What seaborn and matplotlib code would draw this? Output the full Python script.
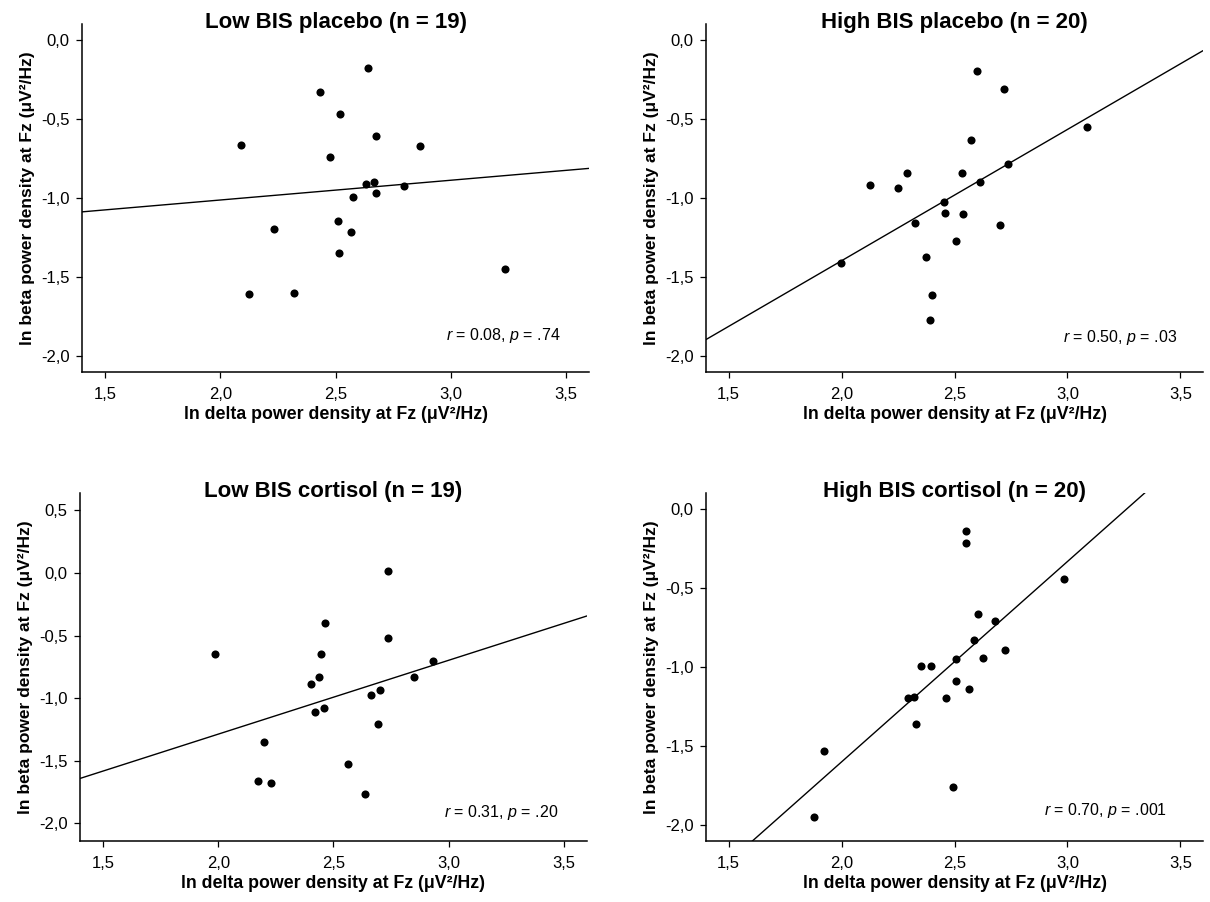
import numpy as np
import pandas as pd
import seaborn as sns
import matplotlib.pyplot as plt

# values (ln delta vs ln beta at Fz)
low_plac_delta = [2.640, 2.431, 2.518, 2.674, 2.088, 2.868, 2.475, 2.634, 2.669, 2.795,
                  2.677, 2.576, 2.510, 2.234, 2.566, 2.516, 3.234, 2.126, 2.319]
low_plac_beta = [-0.176, -0.331, -0.471, -0.607, -0.662, -0.669, -0.741, -0.911, -0.900, -0.924,
                 -0.968, -0.992, -1.146, -1.197, -1.217, -1.348, -1.452, -1.609, -1.603]

high_plac_delta = [2.601, 2.720, 3.086, 2.574, 2.738, 2.127, 2.251, 2.290, 2.531, 2.611,
                   2.453, 2.459, 2.537, 2.325, 2.700, 2.506, 2.374, 1.996, 2.402, 2.393]
high_plac_beta = [-0.197, -0.312, -0.552, -0.633, -0.786, -0.915, -0.938, -0.843, -0.843, -0.902,
                  -1.023, -1.098, -1.100, -1.155, -1.168, -1.272, -1.376, -1.410, -1.611, -1.771]

low_cort_delta = [2.738, 2.465, 2.735, 1.987, 2.447, 2.931, 2.436, 2.848, 2.401, 2.702,
                  2.664, 2.459, 2.420, 2.692, 2.199, 2.561, 2.174, 2.228, 2.637]
low_cort_beta = [0.019, -0.399, -0.519, -0.644, -0.649, -0.702, -0.827, -0.832, -0.883, -0.936,
                 -0.973, -1.074, -1.106, -1.207, -1.346, -1.524, -1.662, -1.678, -1.766]

high_cort_delta = [2.552, 2.552, 2.983, 2.606, 2.679, 2.586, 2.722, 2.507, 2.626, 2.352,
                   2.397, 2.506, 2.565, 2.293, 2.321, 2.463, 2.330, 1.921, 2.493, 1.877]
high_cort_beta = [-0.144, -0.217, -0.446, -0.665, -0.711, -0.830, -0.890, -0.947, -0.941, -0.992,
                  -0.994, -1.091, -1.140, -1.195, -1.191, -1.195, -1.361, -1.533, -1.756, -1.947]

titles = ["Low BIS placebo (n = 19)", "High BIS placebo (n = 20)",
          "Low BIS cortisol (n = 19)", "High BIS cortisol (n = 20)"]
stats = ["$r$ = 0.08, $p$ = .74", "$r$ = 0.50, $p$ = .03",
         "$r$ = 0.31, $p$ = .20", "$r$ = 0.70, $p$ = .001"]

x_ticks = [1.5, 2.0, 2.5, 3.0, 3.5]
x_ticklabels = ["1,5", "2,0", "2,5", "3,0", "3,5"]
y_ticks_a = [0.0, -0.5, -1.0, -1.5, -2.0]
y_ticklabels_a = ["0,0", "-0,5", "-1,0", "-1,5", "-2,0"]
y_ticks_b = [0.5, 0.0, -0.5, -1.0, -1.5, -2.0]
y_ticklabels_b = ["0,5", "0,0", "-0,5", "-1,0", "-1,5", "-2,0"]

sns.set_style("ticks")
plt.rcParams['font.family'] = ['Liberation Sans', 'DejaVu Sans']
plt.rcParams['mathtext.fontset'] = 'custom'
plt.rcParams['mathtext.rm'] = 'Liberation Sans'
plt.rcParams['mathtext.it'] = 'Liberation Sans:italic'
plt.rcParams['text.color'] = 'black'
plt.rcParams['axes.labelcolor'] = 'black'

fig = plt.figure(figsize=(12.1, 9.02), dpi=100)

panels = [
    (low_plac_delta, low_plac_beta, [0.0678, 0.5876, 0.419, 0.3858], (-2.1, 0.1),
     y_ticks_a, y_ticklabels_a, (0.943, 0.092)),
    (high_plac_delta, high_plac_beta, [0.5835, 0.5876, 0.4107, 0.3858], (-2.1, 0.1),
     y_ticks_a, y_ticklabels_a, (0.948, 0.086)),
    (low_cort_delta, low_cort_beta, [0.0661, 0.0676, 0.419, 0.386], (-2.14, 0.64),
     y_ticks_b, y_ticklabels_b, (0.943, 0.069)),
    (high_cort_delta, high_cort_beta, [0.5835, 0.0676, 0.4107, 0.386], (-2.1, 0.1),
     y_ticks_a, y_ticklabels_a, (0.928, 0.075)),
]

for i, (xs, ys, rect, ylim, yt, ytl, txt_pos) in enumerate(panels):
    ax = fig.add_axes(rect)
    df = pd.DataFrame({"delta": xs, "beta": ys})
    ax.set_xlim(1.4, 3.6)
    ax.set_ylim(*ylim)
    sns.regplot(data=df, x="delta", y="beta", ax=ax, ci=None, truncate=False,
                scatter_kws=dict(s=34, color="black", alpha=1, linewidths=0),
                line_kws=dict(color="black", lw=1.0))
    ax.set_xlim(1.4, 3.6)
    ax.set_ylim(*ylim)
    ax.set_xticks(x_ticks)
    ax.set_xticklabels(x_ticklabels)
    ax.set_yticks(yt)
    ax.set_yticklabels(ytl)
    ax.tick_params(labelsize=12, length=4, width=0.9, pad=5, colors="black")
    ax.tick_params(axis="x", pad=7)
    sns.despine(ax=ax)
    for s in ["left", "bottom"]:
        ax.spines[s].set_linewidth(1.1)
        ax.spines[s].set_color("black")
    # title sits slightly inside the top of the axes, as in the original
    ax.set_title(titles[i], fontsize=16, fontweight="bold", y=0.988, pad=0)
    ax.set_xlabel("ln delta power density at Fz (μV²/Hz)", fontsize=12.8,
                  fontweight="bold", labelpad=3)
    ax.set_ylabel("ln beta power density at Fz (μV²/Hz)", fontsize=12.5, fontweight="bold")
    ax.text(txt_pos[0], txt_pos[1], stats[i], transform=ax.transAxes,
            ha="right", va="baseline", fontsize=11.5)

fig.savefig("out.png", dpi=100)
